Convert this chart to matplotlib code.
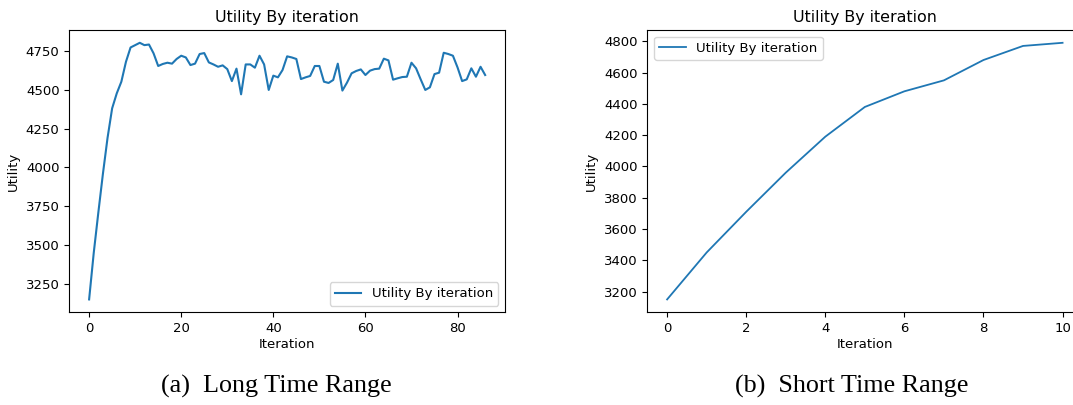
import matplotlib
matplotlib.use("Agg")
import matplotlib.pyplot as plt
from matplotlib.ticker import MultipleLocator

# utility per iteration
long_iter = list(range(87))
long_utility = [3152, 3450, 3710, 3960, 4190, 4380, 4476, 4551, 4679, 4771,
                4786, 4801, 4786, 4790, 4733, 4652, 4665, 4673, 4667, 4697,
                4718, 4707, 4658, 4667, 4729, 4735, 4675, 4662, 4647, 4656,
                4632, 4555, 4635, 4470, 4662, 4662, 4641, 4718, 4662, 4498,
                4590, 4579, 4626, 4714, 4707, 4697, 4568, 4579, 4588, 4652,
                4652, 4551, 4543, 4562, 4667, 4494, 4545, 4605, 4620, 4630,
                4594, 4622, 4632, 4635, 4699, 4688, 4564, 4573, 4581, 4583,
                4673, 4637, 4566, 4498, 4515, 4600, 4609, 4737, 4729, 4718,
                4643, 4555, 4566, 4637, 4583, 4647, 4594]

short_iter = list(range(11))
short_utility = [3150, 3450, 3710, 3960, 4190, 4380, 4480, 4550, 4680, 4770, 4790]

plt.rcParams['font.size'] = 9.5

fig = plt.figure(figsize=(10.73, 4.05), dpi=100)

ax1 = fig.add_axes([0.0646, 0.229, 0.406, 0.697])
ax1.plot(long_iter, long_utility, label="Utility By iteration", linewidth=1.5)
ax1.set_title("Utility By iteration")
ax1.set_xlabel("Iteration", labelpad=2)
ax1.set_ylabel("Utility")
ax1.legend(loc="lower right")

ax2 = fig.add_axes([0.6033, 0.229, 0.4054, 0.697])
ax2.plot(short_iter, short_utility, label="Utility By iteration", linewidth=1.3)
ax2.yaxis.set_major_locator(MultipleLocator(200))
ax2.set_title("Utility By iteration")
ax2.set_xlabel("Iteration", labelpad=2)
ax2.set_ylabel("Utility")
ax2.legend(loc="upper left")

cap = dict(family="Liberation Serif", fontsize=18.8, ha="center", va="center")
fig.text(276 / 1073, 1 - 386 / 405, "(a)  Long Time Range", **cap)
fig.text(852 / 1073, 1 - 386 / 405, "(b)  Short Time Range", **cap)

fig.savefig("out.png", dpi=100)
